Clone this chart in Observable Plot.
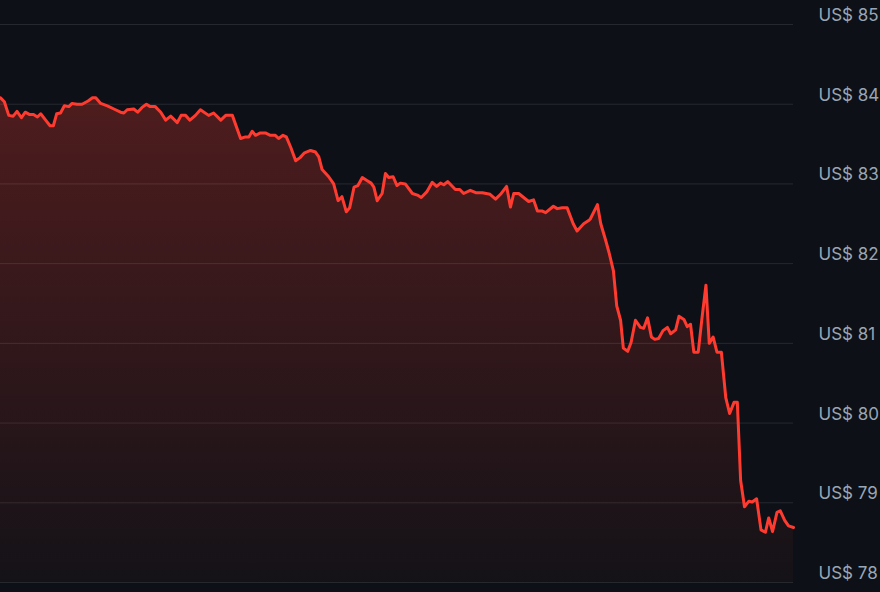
<!DOCTYPE html>
<html>
<head>
<meta charset="utf-8">
<script src="https://cdn.jsdelivr.net/npm/d3@7"></script>
<script src="https://cdn.jsdelivr.net/npm/@observablehq/plot@0.6"></script>
<style>
  html, body { margin: 0; padding: 0; background: #0d1117; }
  #chart { width: 880px; height: 592px; overflow: hidden; }
  svg { display: block; }
</style>
</head>
<body>
<div id="chart"></div>
<script>
// Minutes since start of window (24h session)
const minutes = [0,7,15,23,30,38,45,53,60,67,73,82,90,96,102,109,116,124,130,139,148,159,167,173,182,194,206,218,224,230,242,249,257,265,272,281,291,300,309,321,328,336,344,354,363,378,387,400,409,421,436,445,451,457,463,472,481,490,499,505,513,519,527,536,544,552,563,572,578,584,596,605,613,620,628,634,642,649,657,666,673,678,684,693,699,705,713,720,726,735,748,757,764,774,784,792,799,805,812,826,834,841,853,863,875,889,899,908,919,926,932,941,950,959,968,975,984,990,1004,1011,1020,1029,1040,1047,1059,1068,1071,1084,1090,1099,1105,1113,1119,1126,1131,1139,1145,1153,1162,1168,1175,1182,1188,1195,1203,1211,1217,1226,1232,1241,1247,1253,1259,1267,1274,1281,1287,1294,1301,1309,1317,1324,1332,1338,1344,1351,1359,1365,1373,1381,1389,1395,1402,1410,1416,1424,1431,1440];
// Price in US$
const prices = [84.08,84.03,83.86,83.85,83.91,83.83,83.90,83.87,83.87,83.84,83.88,83.80,83.73,83.73,83.88,83.89,83.98,83.97,84.01,84.00,84.00,84.04,84.08,84.08,84.01,83.98,83.94,83.90,83.89,83.93,83.94,83.90,83.96,84.00,83.97,83.97,83.90,83.80,83.85,83.77,83.86,83.86,83.80,83.86,83.93,83.86,83.89,83.80,83.86,83.86,83.57,83.59,83.59,83.66,83.61,83.64,83.64,83.61,83.61,83.57,83.61,83.59,83.46,83.29,83.33,83.39,83.42,83.40,83.34,83.18,83.09,83.00,82.79,82.84,82.65,82.70,82.96,82.98,83.08,83.04,83.01,82.96,82.79,82.88,83.13,83.08,83.09,82.98,83.01,83.00,82.88,82.86,82.83,82.90,83.02,82.97,83.01,82.99,83.03,82.93,82.93,82.88,82.92,82.89,82.89,82.87,82.81,82.87,82.97,82.71,82.88,82.88,82.83,82.78,82.80,82.66,82.66,82.64,82.72,82.69,82.70,82.70,82.50,82.41,82.50,82.54,82.56,82.74,82.50,82.29,82.14,81.91,81.47,81.29,80.94,80.90,81.01,81.29,81.20,81.19,81.32,81.08,81.05,81.06,81.16,81.20,81.12,81.17,81.34,81.30,81.21,81.24,80.89,80.89,81.33,81.73,81.00,81.08,80.89,80.89,80.32,80.12,80.26,80.26,79.28,78.95,79.02,79.01,79.05,78.66,78.63,78.81,78.64,78.88,78.90,78.78,78.71,78.69];
const yTicks = [78,79,80,81,82,83,84,85];
const currency = "US$";

const data = minutes.map((m, i) => ({t: m, price: prices[i]}));

const lineColor = "#ff3b30";

const chart = Plot.plot({
  width: 880,
  height: 592,
  marginLeft: 0,
  marginRight: 87,
  marginTop: 24,
  marginBottom: 10,
  style: {background: "#0d1117", fontFamily: "Inter, 'Noto Sans', sans-serif", overflow: "hidden"},
  x: {domain: [0, 1440], axis: null},
  y: {domain: [78, 85], axis: null},
  marks: [
    Plot.areaY(data, {x: "t", y1: 78, y2: "price", fill: "url(#priceGrad)", curve: "linear"}),
    Plot.ruleY(yTicks, {stroke: "#ffffff", strokeOpacity: 0.1, strokeWidth: 1}),
    Plot.lineY(data, {x: "t", y: "price", stroke: lineColor, strokeWidth: 3, curve: "linear", strokeLinejoin: "round"}),
    Plot.text(yTicks, {
      y: d => d,
      frameAnchor: "right",
      dx: 25,
      dy: -9,
      textAnchor: "start",
      fontSize: 17,
      fill: "#9aa6b6",
      text: d => `${currency} ${d}`
    })
  ]
});

const svg = d3.select(chart);
const defs = svg.insert("defs", ":first-child");
const grad = defs.append("linearGradient")
  .attr("id", "priceGrad")
  .attr("x1", 0).attr("y1", 0).attr("x2", 0).attr("y2", 1);
grad.append("stop").attr("offset", "0%").attr("stop-color", lineColor).attr("stop-opacity", 0.27);
grad.append("stop").attr("offset", "100%").attr("stop-color", lineColor).attr("stop-opacity", 0.03);

document.getElementById("chart").appendChild(chart);
</script>
</body>
</html>
